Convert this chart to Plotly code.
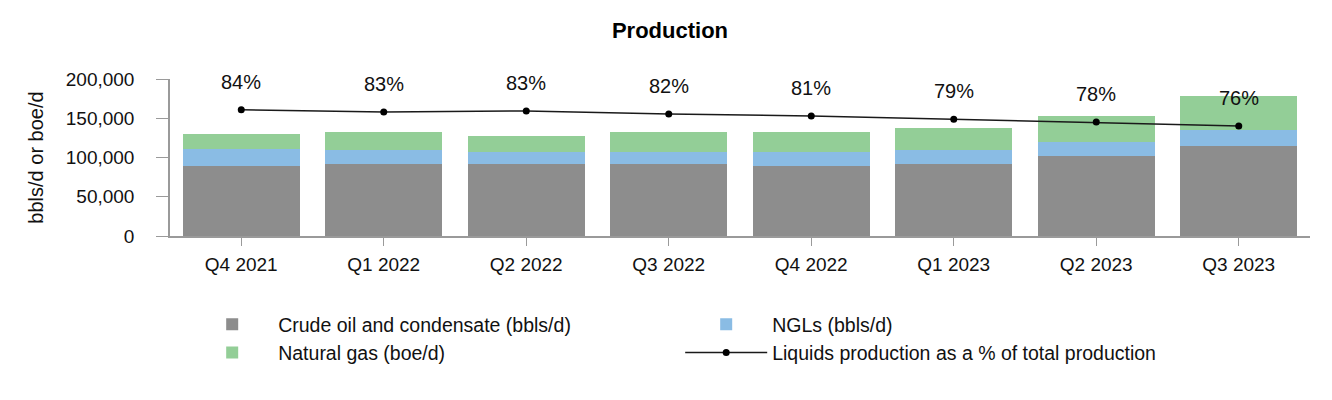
import plotly.graph_objects as go

quarters = ["Q4 2021", "Q1 2022", "Q2 2022", "Q3 2022", "Q4 2022", "Q1 2023", "Q2 2023", "Q3 2023"]
crude_oil = [89000, 91700, 91700, 91700, 89000, 91700, 101900, 114600]
ngls = [21400, 18300, 15300, 15300, 18000, 17900, 17800, 20400]
natural_gas = [19600, 22900, 20400, 25900, 25900, 28000, 33200, 43300]
liquids_pct = [84.0, 82.9, 83.4, 81.9, 81.0, 79.4, 78.0, 76.1]

FONT = "Liberation Sans, Arial, sans-serif"
GRAY_AX = "#9a9a9a"

fig = go.Figure()
fig.add_trace(go.Bar(x=quarters, y=crude_oil, name="Crude oil and condensate (bbls/d)",
                     marker=dict(color="#8d8d8d", line=dict(width=0))))
fig.add_trace(go.Bar(x=quarters, y=ngls, name="NGLs (bbls/d)",
                     marker=dict(color="#8abce4", line=dict(width=0))))
fig.add_trace(go.Bar(x=quarters, y=natural_gas, name="Natural gas (boe/d)",
                     marker=dict(color="#93ce97", line=dict(width=0))))
fig.add_trace(go.Scatter(x=quarters, y=liquids_pct, yaxis="y2", mode="lines+markers",
                         name="Liquids production as a % of total production",
                         line=dict(color="#1a1a1a", width=1.5),
                         marker=dict(color="#000000", size=7)))

for q, p in zip(quarters, liquids_pct):
    fig.add_annotation(x=q, y=p, yref="y2", text=f"{round(p)}%", showarrow=False,
                       yshift=28, font=dict(family=FONT, size=20, color="#111111"))

W, H = 1324, 392
fig.update_layout(
    width=W, height=H,
    barmode="stack", bargap=0.18,
    plot_bgcolor="white", paper_bgcolor="white",
    margin=dict(l=162, r=22, t=71, b=164),
    font=dict(family=FONT, size=19, color="#111111"),
    title=dict(text="<b>Production</b>", x=0.5, xanchor="center", y=1 - 22 / H, yanchor="middle",
               font=dict(family=FONT, size=22, color="#000000")),
    xaxis=dict(type="category", range=[-0.5, 7.5], showline=True, linecolor=GRAY_AX, linewidth=1.5,
               ticks="outside", ticklen=8, tickcolor=GRAY_AX, ticklabelstandoff=2,
               showgrid=False, tickfont=dict(size=19, family=FONT, color="#111111")),
    yaxis=dict(range=[0, 200000], tickvals=[0, 50000, 100000, 150000, 200000],
               tickformat=",d", showline=True, linecolor=GRAY_AX, linewidth=1.5,
               ticks="outside", ticklen=12, tickcolor=GRAY_AX, ticklabelstandoff=18,
               showgrid=False, zeroline=False,
               title=dict(text="bbls/d or boe/d", standoff=17, font=dict(size=20, family=FONT)),
               tickfont=dict(size=19, family=FONT, color="#111111")),
    yaxis2=dict(overlaying="y", range=[22.7, 98.9], visible=False),
    legend=dict(orientation="h", x=0.0142, xanchor="left", y=-0.44, yanchor="top",
                itemwidth=82, entrywidth=397, entrywidthmode="pixels", traceorder="normal",
                font=dict(family=FONT, size=19.5, color="#111111"), bgcolor="rgba(0,0,0,0)"),
    showlegend=True,
)

fig.write_html("out.html")
